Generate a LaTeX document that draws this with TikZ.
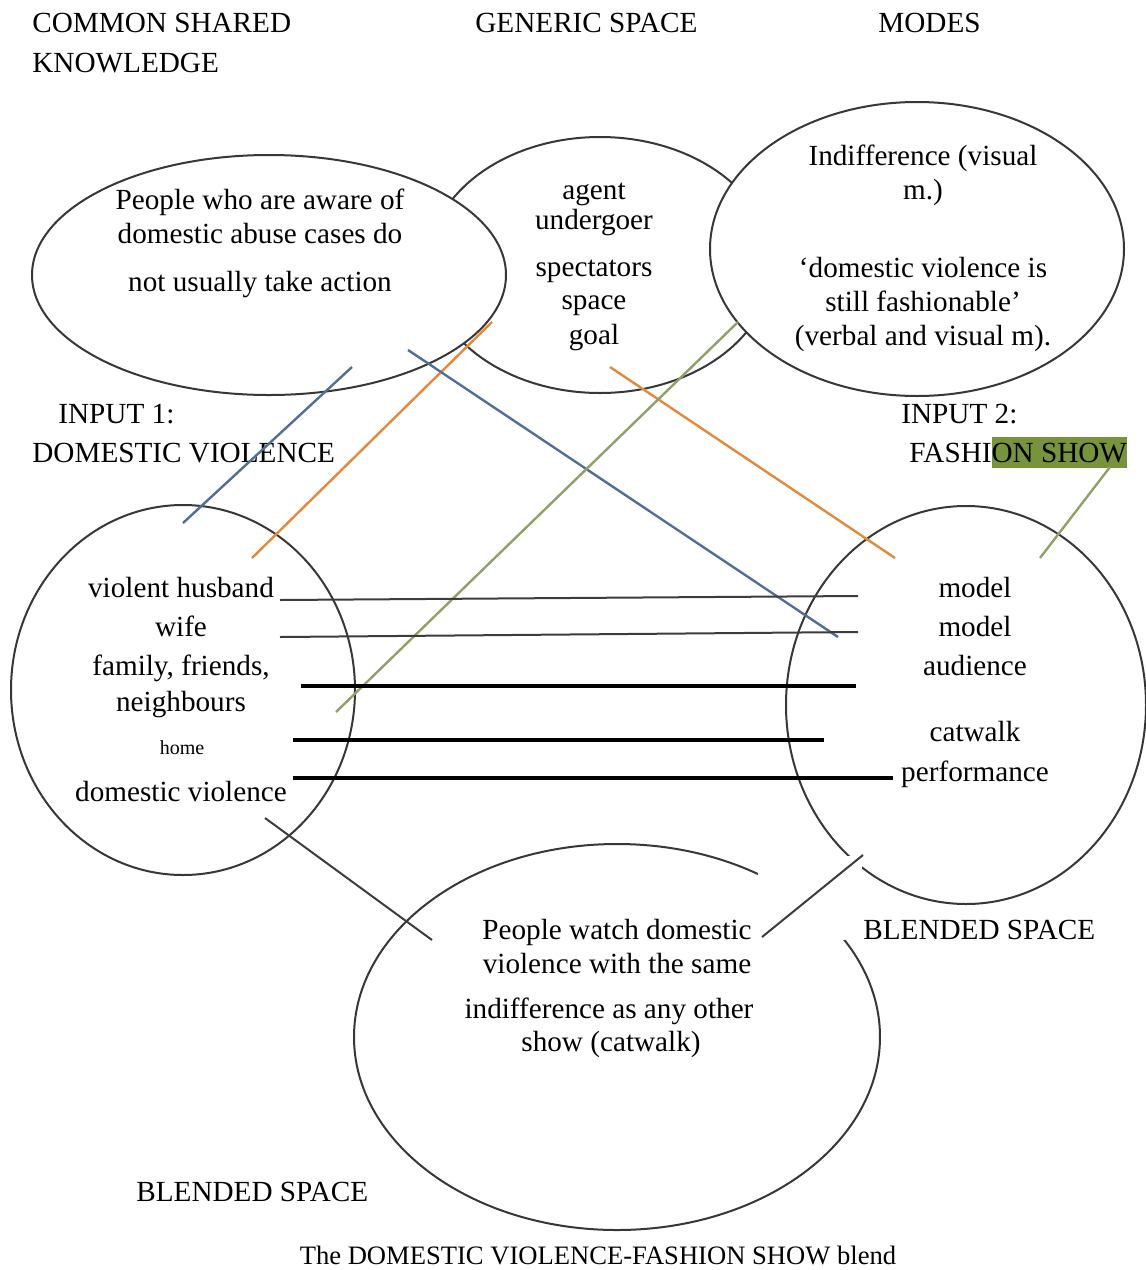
\documentclass[tikz,border=0pt]{standalone}
\usepackage{fontspec}
\setmainfont{Liberation Serif}
\usetikzlibrary{shapes.geometric}
\definecolor{outline}{RGB}{55,55,55}
\definecolor{mapblue}{RGB}{84,110,145}
\definecolor{maporange}{RGB}{226,138,60}
\definecolor{mapgreen}{RGB}{145,160,105}
\definecolor{hlgreen}{RGB}{119,147,60}
\definecolor{darkline}{RGB}{60,60,60}
\newcommand{\hlbox}[1]{{\setlength{\fboxsep}{0pt}\colorbox{hlgreen}{\rule[-3pt]{0pt}{15.5pt}#1}}}
\begin{document}
\begin{tikzpicture}[x=0.5pt,y=-0.5pt,
  every node/.style={font=\fontsize{14.6}{17.5}\selectfont},
  space/.style={ellipse, draw=outline, line width=1pt, fill=white, inner sep=0pt},
  txt/.style={anchor=base, inner sep=0pt},
  ltxt/.style={anchor=base west, inner sep=0pt},
  mapline/.style={line width=1.2pt},
  thinbar/.style={line width=1pt, draw=darkline},
  thickbar/.style={line width=1.6pt, draw=black}]
\useasboundingbox (0,0) rectangle (1146,1270);

% headings
\node[ltxt] (hCommon) at (32,32) {COMMON SHARED};
\node[ltxt] (hKnow) at (32,72) {KNOWLEDGE};
\node[ltxt] (hGeneric) at (475,32) {GENERIC SPACE};
\node[ltxt] (hModes) at (878,32) {MODES};

% mental spaces
\node[space, minimum width=172pt, minimum height=128pt] (generic) at (600,265) {};
\node[space, minimum width=237pt, minimum height=120pt] (common) at (269,275) {};
\node[space, minimum width=207pt, minimum height=147pt] (modes) at (917,249) {};
\node[space, minimum width=172pt, minimum height=185pt] (input1) at (183,690) {};
\node[space, minimum width=180pt, minimum height=199pt] (input2) at (966,705) {};
\node[space, minimum width=263pt, minimum height=193pt] (blend) at (617,1037) {};

% contents of the top spaces
\node[txt] (c1) at (260,209) {People who are aware of};
\node[txt] (c2) at (260,243) {domestic abuse cases do};
\node[txt] (c3) at (260,291) {not usually take action};

\node[txt] (g1) at (594,199) {agent};
\node[txt] (g2) at (594,229) {undergoer};
\node[txt] (g3) at (594,276) {spectators};
\node[txt] (g4) at (594,309) {space};
\node[txt] (g5) at (594,344) {goal};

\node[txt] (m1) at (923,165) {Indifference (visual};
\node[txt] (m2) at (923,199) {m.)};
\node[txt] (m3) at (923,277) {`domestic violence is};
\node[txt] (m4) at (923,311) {still fashionable'};
\node[txt] (m5) at (923,345) {(verbal and visual m).};

% input labels
\node[ltxt] (in1a) at (58,423) {INPUT 1:};
\node[ltxt] (in1b) at (32,462) {DOMESTIC VIOLENCE};
\node[ltxt] (in2a) at (901,423) {INPUT 2:};
\node[ltxt] (in2b) at (909,462) {FASHI\hlbox{ON SHOW}};

% contents of input 1
\node[txt] (a1) at (181,597) {violent husband};
\node[txt] (a2) at (181,636) {wife};
\node[txt] (a3) at (181,675) {family, friends,};
\node[txt] (a4) at (181,711) {neighbours};
\node[txt, font=\fontsize{10}{12}\selectfont] (a5) at (182,754) {home};
\node[txt] (a6) at (181,801) {domestic violence};

% contents of input 2
\node[txt] (b1) at (975,597) {model};
\node[txt] (b2) at (975,636) {model};
\node[txt] (b3) at (975,675) {audience};
\node[txt] (b4) at (975,741) {catwalk};
\node[txt] (b5) at (975,781) {performance};

% blended space
\node[txt] (s1) at (617,939) {People watch domestic};
\node[txt] (s2) at (617,973) {violence with the same};
\node[txt] (s3) at (609,1018) {indifference as any other};
\node[txt] (s4) at (611,1051) {show (catwalk)};

% white patch behind the blend connector
\fill[white] (758,856) rectangle (862,940);

\node[ltxt] (bsR) at (863,939) {BLENDED SPACE};
\node[ltxt] (bsL) at (136,1201) {BLENDED SPACE};
\node[txt, font=\fontsize{13.3}{16}\selectfont] (cap) at (598,1264) {The DOMESTIC VIOLENCE-FASHION SHOW blend};

% end points of the mapping lines
\coordinate (p1a) at (352,367);  \coordinate (p1b) at (183,523);
\coordinate (p2a) at (492,322);  \coordinate (p2b) at (252,558);
\coordinate (p3a) at (408,350);  \coordinate (p3b) at (838,637);
\coordinate (p4a) at (610,367);  \coordinate (p4b) at (895,558);
\coordinate (p5a) at (738,322);  \coordinate (p5b) at (336,712);
\coordinate (p6a) at (1110,467); \coordinate (p6b) at (1040,558);
\coordinate (h1a) at (280,600);  \coordinate (h1b) at (858,596);
\coordinate (h2a) at (280,637);  \coordinate (h2b) at (858,632);
\coordinate (h3a) at (301,686);  \coordinate (h3b) at (856,686);
\coordinate (h4a) at (293,740);  \coordinate (h4b) at (824,740);
\coordinate (h5a) at (293,778);  \coordinate (h5b) at (893,778);
\coordinate (d1a) at (265,818);  \coordinate (d1b) at (432,940);
\coordinate (d2a) at (762,937);  \coordinate (d2b) at (863,855);

% cross-space mappings
\draw[mapline, mapblue] (p1a) -- (p1b);
\draw[mapline, maporange] (p2a) -- (p2b);
\draw[mapline, mapblue] (p3a) -- (p3b);
\draw[mapline, maporange] (p4a) -- (p4b);
\draw[mapline, mapgreen] (p5a) -- (p5b);
\draw[mapline, mapgreen] (p6a) -- (p6b);

% counterpart links between the inputs
\draw[thinbar] (h1a) -- (h1b);
\draw[thinbar] (h2a) -- (h2b);
\draw[thickbar] (h3a) -- (h3b);
\draw[thickbar] (h4a) -- (h4b);
\draw[thickbar] (h5a) -- (h5b);

% projections into the blend
\draw[thinbar] (d1a) -- (d1b);
\draw[thinbar] (d2a) -- (d2b);
\end{tikzpicture}
\end{document}
